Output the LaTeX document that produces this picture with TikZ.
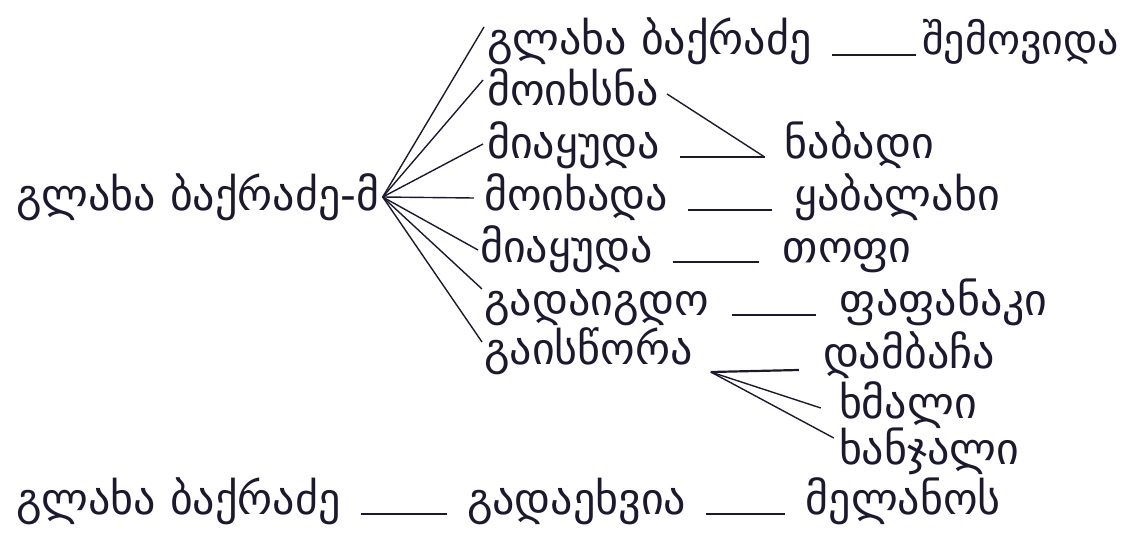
\documentclass[tikz,border=0pt]{standalone}
\usepackage{fontspec}
\newfontfamily\geo{DejaVu Sans}
\definecolor{ink}{RGB}{28,24,48}
\tikzset{
  word/.style={anchor=base west, inner sep=0pt, text=ink, font=\geo\fontsize{44}{50}\selectfont},
  spoke/.style={draw=ink, line width=1.4pt},
  underbar/.style={draw=ink, line width=2.2pt},
}
\begin{document}
\begin{tikzpicture}[x=1pt,y=-1pt]
  \useasboundingbox (0,0) rectangle (1125,535);

  % Root
  \node[word] (root) at (16,210) {გლახა ბაქრაძე-მ};
  \coordinate (fan) at ([xshift=3pt,yshift=13pt]root.base east);

  % Column of predicates
  \node[word] (p1) at (487,55)  {გლახა ბაქრაძე};
  \node[word] (p2) at (487,106) {მოიხსნა};
  \node[word] (p3) at (487,158) {მიაყუდა};
  \node[word] (p4) at (484,210) {მოიხადა};
  \node[word] (p5) at (480,262) {მიაყუდა};
  \node[word] (p6) at (484,315) {გადაიგდო};
  \node[word] (p7) at (484,364) {გაისწორა};

  % Objects
  \node[word, font=\geo\fontsize{42}{48}\selectfont] (o1) at ([xshift=110pt]p1.base east) {შემოვიდა};
  \node[word] (o3) at ([xshift=125pt]p3.base east) {ნაბადი};
  \node[word] (o4) at ([xshift=126pt]p4.base east) {ყაბალახი};
  \node[word] (o5) at ([xshift=130pt]p5.base east) {თოფი};
  \node[word] (o6) at ([xshift=130pt]p6.base east) {ფაფანაკი};
  \node[word] (o7a) at ([xshift=130pt,yshift=-4pt]p7.base east) {დამბაჩა};
  \node[word] (o7b) at ([xshift=146pt,yshift=-54pt]p7.base east) {ხმალი};
  \node[word] (o7c) at ([xshift=146pt,yshift=-100pt]p7.base east) {ხანჯალი};

  % Bottom sentence
  \node[word] (b1) at (16,514) {გლახა ბაქრაძე};
  \node[word] (b2) at ([xshift=126pt]b1.base east) {გადაეხვია};
  \node[word] (b3) at ([xshift=119pt]b2.base east) {მელანოს};

  % Fan from the root
  \draw[spoke] (fan) -- ([xshift=-3pt,yshift=28pt]p1.base west);
  \draw[spoke] (fan) -- ([xshift=-4pt,yshift=26pt]p2.base west);
  \draw[spoke] (fan) -- ([xshift=-4pt,yshift=14pt]p3.base west);
  \draw[spoke] (fan) -- ([xshift=-10pt,yshift=12pt]p4.base west);
  \draw[spoke] (fan) -- ([xshift=-2pt,yshift=12pt]p5.base west);
  \draw[spoke] (fan) -- ([xshift=-2pt,yshift=26pt]p6.base west);
  \draw[spoke] (fan) -- ([xshift=-2pt,yshift=22pt]p7.base west);

  % Joins
  \coordinate (j3) at ([xshift=-20pt,yshift=1pt]o3.base west);
  \coordinate (j7) at ([xshift=18pt,yshift=-8pt]p7.base east);

  % Bars
  \draw[underbar] ([xshift=20pt]p1.base east) -- ([xshift=-6pt]o1.base west);
  \draw[spoke] ([xshift=8pt,yshift=12pt]p2.base east) -- (j3);
  \draw[underbar] ([xshift=20pt,yshift=1pt]p3.base east) -- (j3);
  \draw[underbar] ([xshift=20pt]p4.base east) -- ([xshift=-22pt]o4.base west);
  \draw[underbar] ([xshift=20pt]p5.base east) -- ([xshift=-24pt]o5.base west);
  \draw[underbar] ([xshift=22pt]p6.base east) -- ([xshift=-24pt]o6.base west);
  \draw[underbar] (j7) -- ([xshift=-24pt,yshift=-2pt]o7a.base west);
  \draw[spoke] (j7) -- ([xshift=-18pt,yshift=10pt]o7b.base west);
  \draw[spoke] (j7) -- ([xshift=-5pt,yshift=26pt]o7c.base west);
  \draw[underbar] ([xshift=20pt]b1.base east) -- ([xshift=-20pt]b2.base west);
  \draw[underbar] ([xshift=20pt]b2.base east) -- ([xshift=-20pt]b3.base west);

\end{tikzpicture}
\end{document}
